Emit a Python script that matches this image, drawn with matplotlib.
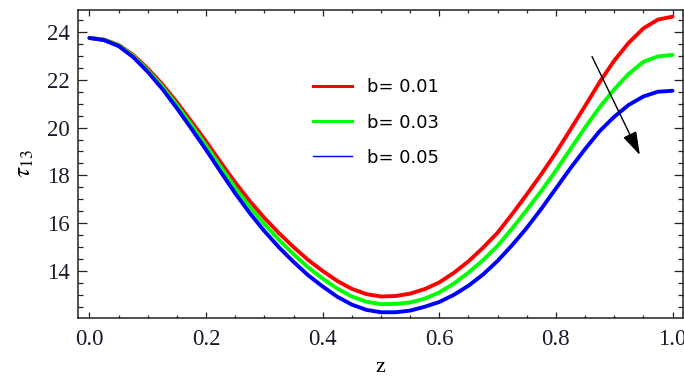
import matplotlib
matplotlib.use("Agg")
import matplotlib.pyplot as plt
from matplotlib.lines import Line2D
from matplotlib.ticker import MultipleLocator, FormatStrFormatter
import numpy as np

# values, z step 0.025
z = np.round(np.arange(0, 1.0001, 0.025), 3)

tau_b001 = [23.75, 23.68, 23.46, 23.04, 22.47, 21.81, 21.06, 20.25, 19.42, 18.55,
            17.70, 16.92, 16.22, 15.58, 15.00, 14.46, 14.00, 13.58, 13.25, 13.03,
            12.93, 12.95, 13.05, 13.24, 13.52, 13.92, 14.40, 14.97, 15.60, 16.38,
            17.20, 18.05, 18.95, 19.92, 20.90, 21.90, 22.80, 23.55, 24.15, 24.52,
            24.64]
tau_b003 = [23.75, 23.67, 23.44, 23.00, 22.40, 21.72, 20.94, 20.11, 19.25, 18.36,
            17.48, 16.68, 15.96, 15.30, 14.70, 14.15, 13.68, 13.26, 12.93, 12.71,
            12.61, 12.62, 12.68, 12.84, 13.10, 13.47, 13.93, 14.45, 15.05, 15.78,
            16.55, 17.35, 18.20, 19.10, 20.00, 20.85, 21.60, 22.25, 22.75, 22.98,
            23.04]
tau_b005 = [23.75, 23.66, 23.41, 22.95, 22.33, 21.62, 20.81, 19.95, 19.07, 18.15,
            17.25, 16.42, 15.67, 14.99, 14.38, 13.82, 13.35, 12.92, 12.59, 12.37,
            12.27, 12.27, 12.34, 12.50, 12.70, 13.00, 13.38, 13.85, 14.42, 15.08,
            15.80, 16.60, 17.45, 18.30, 19.10, 19.85, 20.45, 20.95, 21.30, 21.50,
            21.54]

labels = ["b= 0.01", "b= 0.03", "b= 0.05"]
colors = ["#ff0000", "#00ff00", "#0000ff"]

plt.rcParams["mathtext.fontset"] = "stix"

fig = plt.figure(figsize=(6.84, 3.8), dpi=100)
ax = fig.add_axes([78 / 684, 1 - 318 / 380, 605 / 684, 308 / 380])

for y, c in zip([tau_b001, tau_b003, tau_b005], colors):
    ax.plot(z, y, color=c, lw=2.8, solid_capstyle="round", solid_joinstyle="round")

ax.set_xlim(-0.0196, 1.018)
ax.set_ylim(12.03, 24.92)

ax.xaxis.set_major_locator(MultipleLocator(0.2))
ax.xaxis.set_minor_locator(MultipleLocator(0.05))
ax.xaxis.set_major_formatter(FormatStrFormatter("%.1f"))
ax.yaxis.set_major_locator(MultipleLocator(2))
ax.yaxis.set_minor_locator(MultipleLocator(0.5))

ax.tick_params(axis="both", which="both", direction="in", top=True, right=True,
               width=0.9, colors="#222222", labelcolor="#1a1a2e")
ax.tick_params(axis="x", which="major", length=4.2, pad=8)
ax.tick_params(axis="x", which="minor", length=2.3)
ax.tick_params(axis="y", which="major", length=6.5, pad=6)
ax.tick_params(axis="y", which="minor", length=3.6)
for lab in ax.get_xticklabels() + ax.get_yticklabels():
    lab.set_family("Liberation Serif")
    lab.set_fontsize(16.5)
for sp in ax.spines.values():
    sp.set_linewidth(1.1)
    sp.set_color("#222222")

ax.set_xlabel("z", family="Liberation Serif", fontsize=16, labelpad=6)
ax.set_ylabel(r"$\tau_{13}$", fontsize=18, labelpad=8)

handles = [Line2D([], [], color=colors[0], lw=2.2),
           Line2D([], [], color=colors[1], lw=2.2),
           Line2D([], [], color=colors[2], lw=1.0)]
ax.legend(handles, labels, loc="upper left", bbox_to_anchor=(0.388, 0.778),
          frameon=False, fontsize=13, handlelength=2.17, handletextpad=0.83,
          labelspacing=0.95, borderaxespad=0, borderpad=0)

ax.annotate("", xy=(0.944, 18.85), xytext=(0.862, 22.97),
            arrowprops=dict(arrowstyle="-|>,head_length=0.8,head_width=0.25",
                            color="black", lw=1.0, mutation_scale=18,
                            shrinkA=0, shrinkB=0))

fig.savefig("out.png", dpi=100)
